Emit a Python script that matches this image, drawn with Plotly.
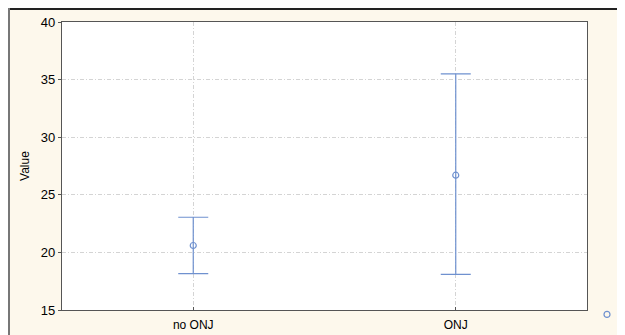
import plotly.graph_objects as go

categories = ["no ONJ", "ONJ"]
means = [20.6, 26.7]
upper = [23.05, 35.5]
lower = [18.15, 18.1]
y_ticks = [15, 20, 25, 30, 35, 40]

err_plus = [u - m for u, m in zip(upper, means)]
err_minus = [m - l for m, l in zip(means, lower)]

# page is offset by the 8px body margin; figure coordinates below
W, H = 625, 335
L, R, T, B = 54, 46, 14, 33
PW, PH = W - L - R, H - T - B
color = "#6f91cf"

fig = go.Figure()
fig.add_trace(go.Scatter(
    x=categories, y=means, mode="markers", name=" ",
    marker=dict(symbol="circle-open", size=6, color=color, line=dict(width=1.2, color=color)),
    error_y=dict(type="data", symmetric=False, array=err_plus, arrayminus=err_minus,
                 color=color, thickness=1.2, width=15),
    showlegend=True,
))

grid = dict(showgrid=True, gridcolor="#d4d4d4", griddash="4px,2px,1px,2px", gridwidth=1)
fig.update_layout(
    width=W, height=H,
    margin=dict(l=L, r=R, t=T, b=B, pad=0, autoexpand=False),
    paper_bgcolor="#fdf8ec", plot_bgcolor="#ffffff",
    font=dict(family="Liberation Sans, Arial, sans-serif", size=12, color="#000000"),
    xaxis=dict(range=[-0.5, 1.5], type="category", showline=True, mirror=True,
               linecolor="#555555", linewidth=1.2, ticks="inside", ticklen=3,
               tickcolor="#555555", zeroline=False, **grid,
               ticklabelstandoff=3, tickfont=dict(size=12)),
    yaxis=dict(range=[15, 40], tickvals=y_ticks, showline=True, mirror=True,
               linecolor="#555555", linewidth=1.2, ticks="outside", ticklen=3,
               tickcolor="#555555", zeroline=False, **grid,
               title=dict(text="Value", font=dict(size=12), standoff=8),
               tickfont=dict(size=13)),
    legend=dict(x=1.0, xanchor="left", y=0.035, yanchor="top",
                bgcolor="rgba(0,0,0,0)", font=dict(size=1),
                itemwidth=30, tracegroupgap=0),
    shapes=[
        dict(type="line", xref="paper", yref="paper",
             x0=-(L) / PW, x1=(W - L) / PW,
             y0=(H - B - 1) / PH, y1=(H - B - 1) / PH,
             line=dict(color="#222222", width=2)),
        dict(type="line", xref="paper", yref="paper",
             x0=-(L - 1) / PW, x1=-(L - 1) / PW,
             y0=-(B) / PH, y1=(H - B) / PH,
             line=dict(color="#777777", width=2)),
    ],
)
fig.write_html("out.html")
